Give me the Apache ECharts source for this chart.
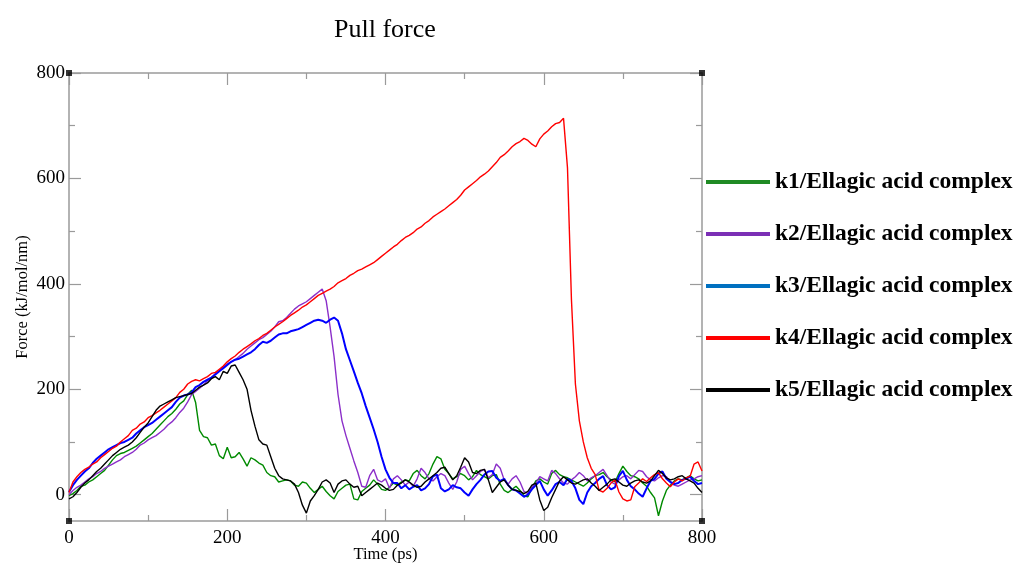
<!DOCTYPE html>
<html>
<head>
<meta charset="utf-8">
<script src="https://cdn.jsdelivr.net/npm/echarts@6/dist/echarts.min.js"></script>
<style>
html,body{margin:0;padding:0;background:#fff;}
#chart{width:1018px;height:563px;}
</style>
</head>
<body>
<div id="chart"></div>
<script>
// ---- data (time step 5 ps, 0..800) ----
const TIME = Array.from({length: 161}, (_, i) => i * 5);
const SERIES_NAMES = ['k1/Ellagic acid complex','k2/Ellagic acid complex','k3/Ellagic acid complex','k4/Ellagic acid complex','k5/Ellagic acid complex'];
const K1 = [
 -2, 2, 8, 16, 18, 24, 28, 34, 40, 46, 56, 66, 74, 78, 80, 84, 88, 92, 98, 104,
 110, 116, 124, 132, 140, 148, 154, 162, 172, 178, 190, 198, 175, 122, 110, 108, 94, 96, 74, 68,
 90, 70, 72, 80, 68, 54, 70, 66, 60, 56, 42, 36, 34, 24, 26, 28, 26, 18, 16, 24,
 22, 12, 4, 10, 16, 6, -2, -8, 6, 12, 18, 20, -8, -10, 6, 12, 18, 28, 20, 10,
 8, 14, 22, 18, 24, 28, 26, 40, 46, 36, 30, 40, 58, 72, 68, 48, 40, 30, 34, 40,
 36, 28, 34, 46, 38, 34, 30, 36, 38, 20, 8, 4, 10, 16, 8, -2, -4, 12, 26, 30,
 24, 20, 40, 46, 38, 34, 32, 28, 24, 20, 16, 22, 30, 36, 38, 42, 34, 28, 24, 40,
 54, 44, 36, 34, 30, 22, 16, 4, -6, -40, -12, 8, 18, 26, 30, 28, 32, 36, 30, 26,
 28];
const K2 = [
 0, 8, 14, 18, 24, 30, 34, 40, 44, 50, 54, 58, 62, 66, 72, 76, 80, 86, 94, 98,
 104, 108, 112, 118, 124, 132, 138, 146, 156, 164, 176, 190, 196, 202, 208, 216, 222, 230, 236, 242,
 248, 252, 256, 262, 268, 276, 282, 288, 294, 298, 304, 310, 318, 328, 330, 336, 344, 352, 358, 362,
 366, 372, 378, 384, 390, 368, 318, 262, 190, 140, 112, 88, 64, 42, 16, 14, 36, 48, 28, 24,
 30, 12, 30, 36, 28, 18, 24, 16, 30, 50, 42, 30, 26, 34, 40, 36, 22, 10, 24, 48,
 54, 40, 28, 36, 44, 48, 32, 38, 58, 50, 28, 20, 30, 36, 24, 6, 2, 14, 22, 34,
 30, 26, 46, 40, 30, 22, 20, 28, 34, 42, 36, 26, 32, 36, 42, 48, 36, 24, 20, 28,
 34, 36, 30, 38, 46, 44, 34, 28, 26, 32, 36, 34, 24, 18, 16, 20, 24, 28, 30, 34,
 36];
const K3 = [
 5, 18, 28, 36, 44, 50, 60, 68, 74, 80, 86, 90, 94, 98, 100, 104, 108, 116, 122, 128,
 132, 136, 142, 148, 154, 160, 166, 176, 184, 188, 190, 194, 204, 208, 214, 218, 222, 228, 234, 240,
 246, 252, 256, 258, 262, 266, 270, 276, 284, 290, 288, 292, 298, 304, 306, 306, 310, 312, 314, 318,
 322, 326, 330, 332, 330, 326, 332, 336, 330, 306, 276, 255, 234, 212, 192, 168, 146, 124, 100, 72,
 48, 32, 22, 22, 12, 18, 10, 15, 18, 8, 12, 20, 35, 38, 12, 6, 10, 18, 14, 12,
 4, -2, 10, 20, 28, 38, 44, 45, 32, 26, 30, 18, 10, 8, 2, -4, 0, 10, 18, 26,
 10, -2, 8, 20, 24, 18, 30, 26, 12, -10, -18, 4, 16, 22, 30, 35, 18, 10, 14, 35,
 45, 28, 16, 10, 2, -4, 12, 26, 30, 40, 44, 30, 24, 20, 22, 28, 30, 34, 26, 20,
 22];
const K4 = [
 4, 24, 34, 42, 48, 52, 58, 62, 70, 76, 82, 88, 92, 100, 106, 112, 122, 126, 134, 138,
 146, 150, 155, 160, 166, 172, 178, 184, 194, 200, 210, 215, 218, 216, 220, 224, 230, 232, 238, 244,
 252, 258, 263, 270, 276, 281, 286, 292, 296, 302, 306, 312, 318, 323, 328, 334, 340, 345, 350, 356,
 360, 366, 372, 378, 382, 386, 390, 395, 402, 406, 410, 416, 420, 425, 428, 432, 436, 440, 446, 452,
 458, 464, 470, 475, 482, 488, 492, 497, 504, 508, 515, 520, 527, 532, 537, 542, 548, 554, 560, 568,
 578, 584, 590, 596, 603, 608, 614, 622, 630, 640, 645, 652, 660, 666, 670, 676, 672, 665, 660, 675,
 684, 690, 698, 704, 706, 714, 620, 370, 210, 140, 100, 70, 50, 38, 8, 5, 12, 22, 28, 5,
 -8, -12, -10, 15, 22, 30, 25, 32, 38, 42, 30, 22, 15, 24, 30, 26, 32, 35, 58, 62,
 45];
const K5 = [
 -8, -4, 4, 14, 22, 28, 36, 44, 50, 58, 66, 74, 80, 86, 90, 94, 100, 108, 118, 128,
 136, 148, 160, 168, 172, 176, 180, 184, 186, 188, 190, 192, 198, 204, 208, 212, 220, 224, 218, 234,
 230, 244, 246, 232, 218, 200, 160, 130, 104, 96, 94, 72, 50, 36, 30, 28, 26, 20, 4, -20,
 -35, -12, -2, 10, 24, 28, 22, 4, 20, 26, 28, 20, 14, 16, -2, 4, 10, 16, 22, 18,
 12, 8, 10, 18, 22, 28, 24, 18, 14, 16, 24, 30, 36, 42, 50, 52, 40, 28, 36, 52,
 70, 62, 42, 40, 46, 48, 28, 4, 14, 24, 28, 18, 10, 8, 6, 2, 6, 18, 22, -10,
 -30, -24, -6, 10, 26, 34, 28, 22, 20, 24, 28, 30, 22, 16, 8, 14, 20, 28, 30, 24,
 18, 16, 22, 26, 28, 24, 22, 26, 36, 46, 40, 32, 28, 30, 34, 36, 30, 26, 22, 12,
 4];
const X_MIN = 0, X_MAX = 800;
const Y_MIN = -50, Y_MAX = 800;
const Y_MAJOR = [0, 200, 400, 600, 800];
const Y_MINOR = [100, 300, 500, 700];
const CORNERS = [[X_MIN, Y_MIN], [X_MAX, Y_MIN], [X_MIN, Y_MAX], [X_MAX, Y_MAX]];

// ---- styles ----
const LINE_COLORS = ['#008a00', '#8b2fc9', '#0000ff', '#ff0000', '#000000'];
const LEGEND_COLORS = ['#1f8a24', '#7b2fb5', '#0070c0', '#ff0000', '#000000'];
const FONT = '"Liberation Serif", "Times New Roman", serif';
const AXIS_GREY = '#9a9a9a';

const chart = echarts.init(document.getElementById('chart'), null, {renderer: 'canvas'});
const pairs = arr => arr.map((v, i) => [TIME[i], v]);
const values = [K1, K2, K3, K4, K5];

const lineSeries = SERIES_NAMES.map((name, i) => ({
  name: name,
  type: 'line',
  data: pairs(values[i]),
  showSymbol: false,
  symbol: 'none',
  xAxisIndex: 0,
  yAxisIndex: 0,
  lineStyle: {color: LINE_COLORS[i], width: i === 2 ? 2 : 1.4},
  itemStyle: {color: LINE_COLORS[i]},
  animation: false,
  z: 2 + i
}));

const yCommon = {type: 'value', min: Y_MIN, max: Y_MAX, splitLine: {show: false}, scale: false};
const xCommon = {type: 'value', min: X_MIN, max: X_MAX, interval: 200, splitLine: {show: false}};

const option = {
  backgroundColor: '#ffffff',
  animation: false,
  title: {
    text: 'Pull force',
    left: 329,
    top: 12,
    textStyle: {fontFamily: FONT, fontSize: 26, fontWeight: 'normal', color: '#000'}
  },
  grid: {left: 69, right: 316, top: 73, bottom: 42, containLabel: false, outerBoundsMode: 'none'},
  legend: {
    orient: 'vertical',
    left: 706,
    top: 170,
    padding: 0,
    itemGap: 28,
    icon: 'rect',
    itemWidth: 64,
    itemHeight: 4,
    textStyle: {fontFamily: FONT, fontSize: 23.5, fontWeight: 'bold', color: '#000'},
    data: SERIES_NAMES.map((n, i) => ({name: n, itemStyle: {color: LEGEND_COLORS[i]}}))
  },
  xAxis: [
    Object.assign({}, xCommon, {
      position: 'bottom',
      name: 'Time (ps)',
      nameLocation: 'middle',
      nameGap: 25,
      nameMoveOverlap: false,
      nameTextStyle: {fontFamily: FONT, fontSize: 16.5, color: '#000'},
      axisLine: {show: true, onZero: false, lineStyle: {color: AXIS_GREY, width: 1.5}},
      axisTick: {show: true, inside: true, length: 12, lineStyle: {color: AXIS_GREY, width: 1.2}},
      minorTick: {show: true, splitNumber: 2, length: 6, lineStyle: {color: AXIS_GREY, width: 1.2}},
      axisLabel: {show: true, margin: 8, fontFamily: FONT, fontSize: 19, color: '#000'}
    }),
    Object.assign({}, xCommon, {
      position: 'top',
      axisLine: {show: true, onZero: false, lineStyle: {color: AXIS_GREY, width: 1.5}},
      axisTick: {show: true, inside: true, length: 12, lineStyle: {color: AXIS_GREY, width: 1.2}},
      minorTick: {show: true, splitNumber: 2, length: 6, lineStyle: {color: AXIS_GREY, width: 1.2}},
      axisLabel: {show: false}
    })
  ],
  yAxis: [
    Object.assign({}, yCommon, {
      position: 'left',
      name: 'Force (kJ/mol/nm)',
      nameLocation: 'middle',
      nameGap: 38,
      nameMoveOverlap: false,
      nameTextStyle: {fontFamily: FONT, fontSize: 16.5, color: '#000'},
      axisLine: {show: true, onZero: false, lineStyle: {color: AXIS_GREY, width: 1.5}},
      axisTick: {show: true, inside: true, length: 12, customValues: Y_MAJOR, lineStyle: {color: AXIS_GREY, width: 1.2}},
      axisLabel: {show: true, margin: 4, customValues: Y_MAJOR, fontFamily: FONT, fontSize: 19, color: '#000'}
    }),
    Object.assign({}, yCommon, {
      position: 'left',
      axisLine: {show: false, onZero: false},
      axisTick: {show: true, inside: true, length: 6, customValues: Y_MINOR, lineStyle: {color: AXIS_GREY, width: 1.2}},
      axisLabel: {show: false}
    }),
    Object.assign({}, yCommon, {
      position: 'right',
      axisLine: {show: true, onZero: false, lineStyle: {color: AXIS_GREY, width: 1.5}},
      axisTick: {show: true, inside: true, length: 12, customValues: Y_MAJOR, lineStyle: {color: AXIS_GREY, width: 1.2}},
      axisLabel: {show: false}
    }),
    Object.assign({}, yCommon, {
      position: 'right',
      axisLine: {show: false, onZero: false},
      axisTick: {show: true, inside: true, length: 6, customValues: Y_MINOR, lineStyle: {color: AXIS_GREY, width: 1.2}},
      axisLabel: {show: false}
    })
  ],
  series: lineSeries.concat([{
    name: 'corners',
    type: 'scatter',
    data: CORNERS,
    symbol: 'rect',
    symbolSize: 6,
    clip: false,
    silent: true,
    itemStyle: {color: '#000'},
    xAxisIndex: 0,
    yAxisIndex: 0,
    z: 10
  }])
};
chart.setOption(option);
</script>
</body>
</html>
